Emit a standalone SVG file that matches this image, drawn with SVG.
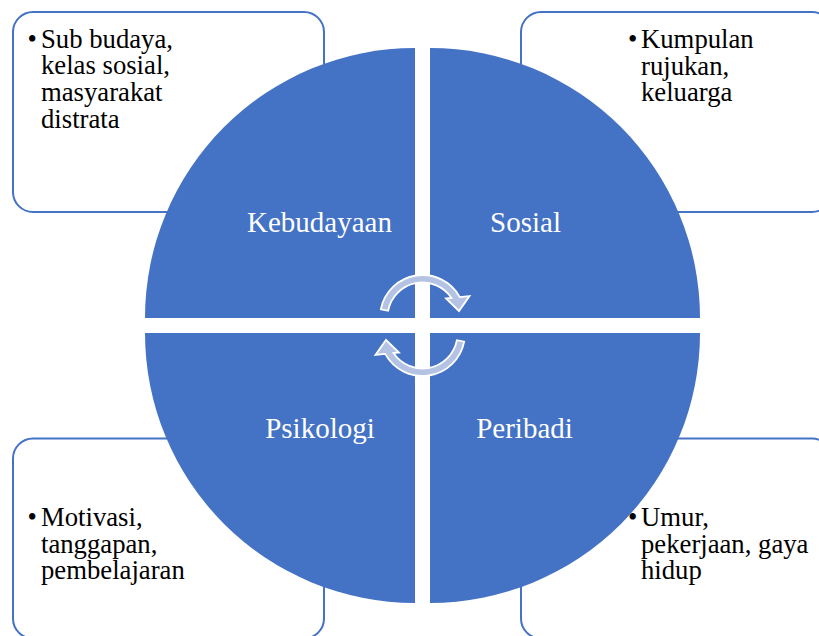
<svg xmlns="http://www.w3.org/2000/svg" width="819" height="636" viewBox="0 0 819 636">
<defs>
<style>
.box{fill:#ffffff;stroke:#4472c4;stroke-width:2}
.quad{fill:#4472c4}
.lbl{font-size:29px;fill:#ffffff;text-anchor:middle}
.txt{font-size:26.7px;fill:#000000}
.arr{fill:#b4c2e4;stroke:#ffffff;stroke-width:1.8;stroke-linejoin:miter}
</style>
</defs>
<rect width="819" height="636" fill="#ffffff"/>
<g font-family="'Liberation Serif', 'Times New Roman', 'DejaVu Serif', serif">
<g id="box-kebudayaan">
<rect class="box" x="13" y="12" width="311" height="200" rx="20"/>
<text class="txt" x="27.5" y="47.5">•</text>
<text class="txt" x="41" y="47.5">Sub budaya,</text>
<text class="txt" x="41" y="74.2">kelas sosial,</text>
<text class="txt" x="41" y="100.9">masyarakat</text>
<text class="txt" x="41" y="127.6">distrata</text>
</g>
<g id="box-sosial">
<rect class="box" x="521" y="12" width="311" height="200" rx="20"/>
<text class="txt" x="628" y="48">•</text>
<text class="txt" x="641" y="48">Kumpulan</text>
<text class="txt" x="641" y="74.7">rujukan,</text>
<text class="txt" x="641" y="101.4">keluarga</text>
</g>
<g id="box-psikologi">
<rect class="box" x="13" y="438.5" width="311" height="200" rx="20"/>
<text class="txt" x="27.5" y="526">•</text>
<text class="txt" x="41" y="526">Motivasi,</text>
<text class="txt" x="41" y="552.7">tanggapan,</text>
<text class="txt" x="41" y="579.4">pembelajaran</text>
</g>
<g id="box-peribadi">
<rect class="box" x="521" y="438.5" width="311" height="200" rx="20"/>
<text class="txt" x="628" y="526">•</text>
<text class="txt" x="641" y="526">Umur,</text>
<text class="txt" x="641" y="552.7">pekerjaan, gaya</text>
<text class="txt" x="641" y="579.4">hidup</text>
</g>
<g id="kebudayaan">
<path class="quad" d="M415,318 L145,318 A270,270 0 0 1 415,48 Z"/>
<text class="lbl" x="319.5" y="232">Kebudayaan</text>
</g>
<g id="sosial">
<path class="quad" d="M430,318 L430,48 A270,270 0 0 1 700,318 Z"/>
<text class="lbl" x="525.5" y="232">Sosial</text>
</g>
<g id="peribadi">
<path class="quad" d="M430,333 L700,333 A270,270 0 0 1 430,603 Z"/>
<text class="lbl" x="524.5" y="437.5">Peribadi</text>
</g>
<g id="psikologi">
<path class="quad" d="M415,333 L415,603 A270,270 0 0 1 145,333 Z"/>
<text class="lbl" x="320" y="437.5">Psikologi</text>
</g>
</g>
<g id="connectors">
<path id="arrow-top" class="arr" d="M380.8,309.4 A42.5,42.5 0 0 1 459.8,297.1 L469.5,296 L459,311 L446,298.5 L451.5,297.9 A35,35 0 0 0 388.1,310.8 Z"/>
<path id="arrow-bottom" class="arr" transform="rotate(180 422.5 325.5)" d="M380.8,309.4 A42.5,42.5 0 0 1 459.8,297.1 L469.5,296 L459,311 L446,298.5 L451.5,297.9 A35,35 0 0 0 388.1,310.8 Z"/>
</g>
</svg>
